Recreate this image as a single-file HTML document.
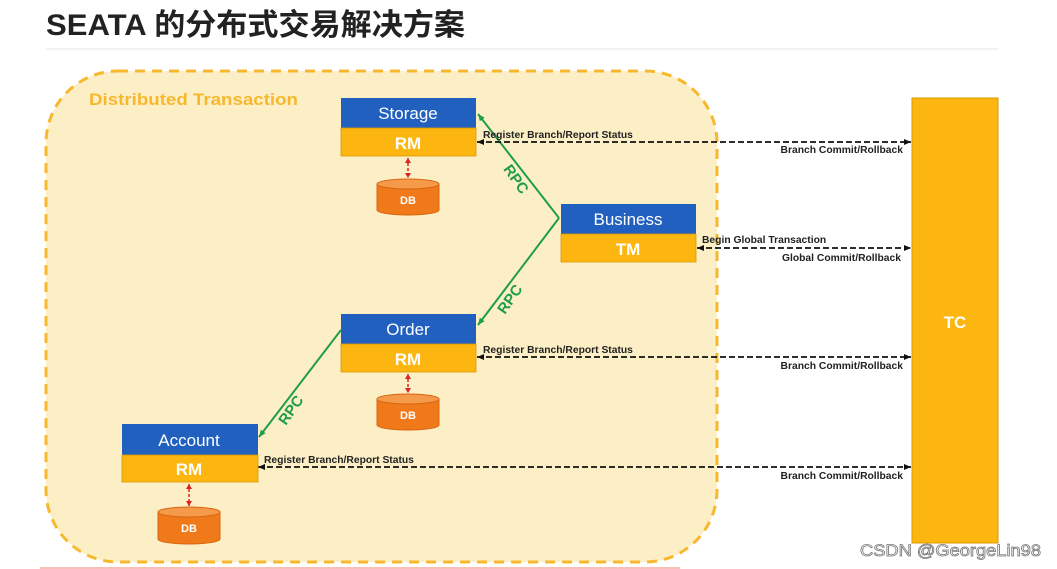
<!DOCTYPE html>
<html><head><meta charset="utf-8"><style>
html,body{margin:0;padding:0;background:#fff;width:1057px;height:569px;overflow:hidden}
svg{display:block}
</style></head><body>
<svg width="1057" height="569" viewBox="0 0 1057 569" xmlns="http://www.w3.org/2000/svg" font-family="Liberation Sans, sans-serif">
<defs>
<marker id="ak" markerWidth="8" markerHeight="8" refX="7" refY="4" orient="auto-start-reverse" markerUnits="userSpaceOnUse"><path d="M0,1 L7,4 L0,7 z" fill="#111"/></marker>
<marker id="ag" markerWidth="8" markerHeight="8" refX="7" refY="4" orient="auto" markerUnits="userSpaceOnUse"><path d="M0,1 L7,4 L0,7 z" fill="#1f9d4c"/></marker>
<marker id="ar" markerWidth="6" markerHeight="6" refX="5" refY="3" orient="auto-start-reverse" markerUnits="userSpaceOnUse"><path d="M0,0 L5,3 L0,6 z" fill="#e02020"/></marker>
</defs>
<text x="46" y="35" font-size="30" font-weight="bold" fill="#222" font-family="Liberation Sans, Noto Sans CJK SC, sans-serif" textLength="419" lengthAdjust="spacingAndGlyphs">SEATA 的分布式交易解决方案</text>
<line x1="46" y1="49" x2="998" y2="49" stroke="#e6e6e6" stroke-width="1"/>
<rect x="46" y="71" width="671" height="491" rx="72" fill="#fdefc5" stroke="#f8b82e" stroke-width="3" stroke-dasharray="10,7"/>
<text x="89" y="105" font-size="17" font-weight="bold" fill="#f8b82e" textLength="209" lengthAdjust="spacingAndGlyphs">Distributed Transaction</text>
<line x1="40" y1="568" x2="680" y2="568" stroke="#f6a8a0" stroke-width="1.5"/>
<rect x="912" y="98" width="86" height="445" fill="#fdb50f" stroke="#d99a00" stroke-width="1"/>
<text x="955" y="328" font-size="17" font-weight="bold" fill="#fff" text-anchor="middle">TC</text>
<g stroke="#1f9d4c" stroke-width="2" fill="none">
<line x1="559" y1="218" x2="478" y2="114" marker-end="url(#ag)"/>
<line x1="559" y1="218" x2="478" y2="325" marker-end="url(#ag)"/>
<line x1="341" y1="330" x2="259" y2="437" marker-end="url(#ag)"/>
</g>
<g font-size="15" font-weight="bold" fill="#1f9d4c" text-anchor="middle">
<text transform="translate(512,182) rotate(55)">RPC</text>
<text transform="translate(514,302) rotate(-55)">RPC</text>
<text transform="translate(295,413) rotate(-55)">RPC</text>
</g>
<g stroke="#111" stroke-width="1.8" stroke-dasharray="6,3" fill="none">
<line x1="477" y1="142" x2="911" y2="142" marker-start="url(#ak)" marker-end="url(#ak)"/>
<line x1="697" y1="248" x2="911" y2="248" marker-start="url(#ak)" marker-end="url(#ak)"/>
<line x1="477" y1="357" x2="911" y2="357" marker-start="url(#ak)" marker-end="url(#ak)"/>
<line x1="258" y1="467" x2="911" y2="467" marker-start="url(#ak)" marker-end="url(#ak)"/>
</g>
<g font-size="10.3" font-weight="bold" fill="#222">
<text x="483" y="138">Register Branch/Report Status</text>
<text x="903" y="153" text-anchor="end">Branch Commit/Rollback</text>
<text x="702" y="243">Begin Global Transaction</text>
<text x="901" y="261" text-anchor="end">Global Commit/Rollback</text>
<text x="483" y="353">Register Branch/Report Status</text>
<text x="903" y="369" text-anchor="end">Branch Commit/Rollback</text>
<text x="264" y="463">Register Branch/Report Status</text>
<text x="903" y="479" text-anchor="end">Branch Commit/Rollback</text>
</g>
<g font-size="17" fill="#fff" text-anchor="middle">
<rect x="341" y="98" width="135" height="30" fill="#2260c0"/><rect x="341" y="128" width="135" height="28" fill="#fdb50f" stroke="#d99a00" stroke-width="0.8"/>
<text x="408" y="119">Storage</text><text x="408" y="149" font-weight="bold">RM</text>
<rect x="561" y="204" width="135" height="30" fill="#2260c0"/><rect x="561" y="234" width="135" height="28" fill="#fdb50f" stroke="#d99a00" stroke-width="0.8"/>
<text x="628" y="225">Business</text><text x="628" y="255" font-weight="bold">TM</text>
<rect x="341" y="314" width="135" height="30" fill="#2260c0"/><rect x="341" y="344" width="135" height="28" fill="#fdb50f" stroke="#d99a00" stroke-width="0.8"/>
<text x="408" y="335">Order</text><text x="408" y="365" font-weight="bold">RM</text>
<rect x="122" y="424" width="136" height="31" fill="#2260c0"/><rect x="122" y="455" width="136" height="27" fill="#fdb50f" stroke="#d99a00" stroke-width="0.8"/>
<text x="189" y="446">Account</text><text x="189" y="475" font-weight="bold">RM</text>
</g>
<g stroke="#e02020" stroke-width="1.5" stroke-dasharray="3,2">
<line x1="408" y1="158" x2="408" y2="178" marker-start="url(#ar)" marker-end="url(#ar)"/>
<line x1="408" y1="374" x2="408" y2="393" marker-start="url(#ar)" marker-end="url(#ar)"/>
<line x1="189" y1="484" x2="189" y2="506" marker-start="url(#ar)" marker-end="url(#ar)"/>
</g>
<g fill="#f07a1a" stroke="#d96510" stroke-width="1">
<path d="M377,184 v26 a31,5 0 0 0 62,0 v-26 z"/><ellipse cx="408" cy="184" rx="31" ry="5" fill="#f59a4a"/>
<path d="M377,399 v26 a31,5 0 0 0 62,0 v-26 z"/><ellipse cx="408" cy="399" rx="31" ry="5" fill="#f59a4a"/>
<path d="M158,512 v27 a31,5 0 0 0 62,0 v-27 z"/><ellipse cx="189" cy="512" rx="31" ry="5" fill="#f59a4a"/>
</g>
<g font-size="11" font-weight="bold" fill="#fff" text-anchor="middle">
<text x="408" y="204">DB</text><text x="408" y="419">DB</text><text x="189" y="532">DB</text>
</g>
<text x="860" y="556" font-size="17" fill="#fff" stroke="#777" stroke-width="0.8" textLength="181" lengthAdjust="spacingAndGlyphs">CSDN @GeorgeLin98</text>
</svg>
</body></html>
